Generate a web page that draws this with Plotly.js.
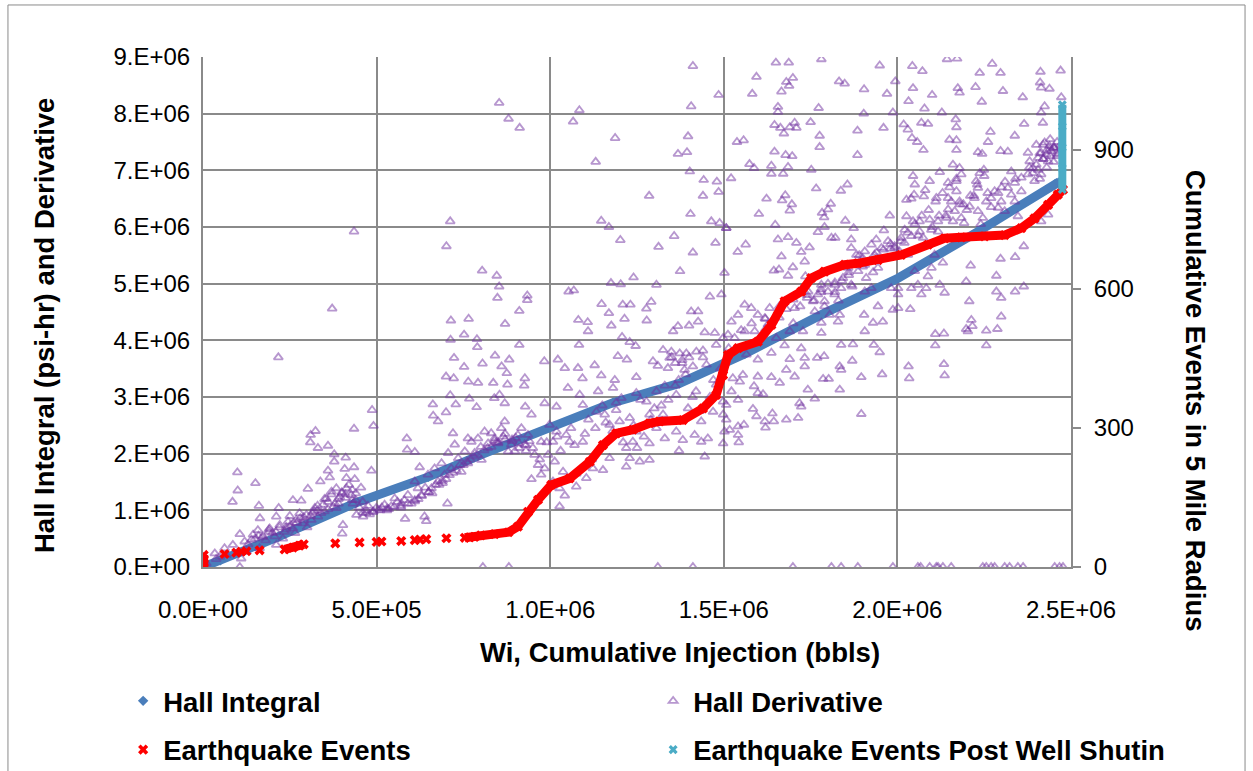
<!DOCTYPE html>
<html>
<head>
<meta charset="utf-8">
<script src="https://cdn.plot.ly/plotly-3.0.1.min.js"></script>
<style>html,body{margin:0;padding:0;background:#fff;}#chart{width:1253px;height:771px;}</style>
</head>
<body>
<div id="chart"></div>
<script>
// ---- Data (injection in millions of bbls, Hall values in millions of psi-hr) ----
const hallX_MM = [0, 0.05, 0.218, 0.439, 0.649, 0.80, 0.999, 1.181, 1.372, 1.502, 1.560, 1.790, 2.003, 2.232, 2.453, 2.467];
const hallY_MM = [0, 0.12, 0.535, 1.13, 1.59, 1.98, 2.47, 2.90, 3.24, 3.62, 3.76, 4.48, 5.10, 5.92, 6.75, 6.80];

const derivX_MM = [
0.435,0.372,0.217,0.487,0.491,0.435,0.310,0.324,0.309,0.331,0.360,0.378,0.378,0.411,0.408,0.435,0.437,0.413,0.485,0.360,0.365,0.338,0.099,0.100,0.085,0.151,0.161,0.164,0.218,0.211,0.250,0.302,0.259,0.283,
0.034,0.062,0.086,0.106,0.120,0.144,0.158,0.173,0.192,0.206,0.221,0.235,0.245,0.259,0.269,0.278,0.288,0.298,0.312,0.322,0.331,0.346,0.355,0.370,0.384,0.394,0.413,0.427,0.432,0.442,0.461,0.480,0.499,0.403,0.401,0.384,0.211,0.163,0.125,0.106,0.110,0.048,0.0096,0.038,0.067,
0.18,0.20,0.23,0.25,0.265,0.28,0.30,0.315,0.34,0.35,0.36,0.375,0.39,0.40,0.42,0.44,0.45,0.47,0.49,0.15,0.13,
0.853,0.880,0.912,0.712,0.701,0.804,0.846,0.853,0.848,0.934,0.934,0.911,0.714,0.765,0.870,0.713,0.752,0.789,0.790,0.911,0.983,0.723,0.752,0.805,0.841,0.882,0.860,0.875,0.700,0.722,0.764,0.792,0.836,0.877,0.927,0.925,0.712,0.662,0.663,0.700,0.728,0.767,0.788,0.839,0.854,0.869,0.984,0.928,0.946,0.587,0.588,0.610,0.624,0.582,0.643,0.704,0.946,0.984,0.806,0.881,
0.504,0.523,0.542,0.552,0.571,0.590,0.600,0.610,0.619,0.629,0.638,0.648,0.658,0.667,0.677,0.687,0.696,0.706,0.715,0.725,0.735,0.744,0.754,0.763,0.773,0.782,0.792,0.802,0.811,0.821,0.830,0.840,0.850,0.859,0.869,0.879,0.888,0.898,0.907,0.917,0.926,0.936,0.955,0.965,0.974,0.994,0.974,0.720,0.763,0.677,
0.515,0.535,0.56,0.58,0.62,0.64,0.66,0.68,0.70,0.74,0.78,0.82,0.845,0.865,0.89,0.91,0.93,0.95,0.97,0.99,
1.411,1.485,1.406,1.084,1.066,1.187,1.131,1.397,1.368,1.394,1.402,1.442,1.480,1.440,1.485,1.285,1.404,1.147,1.169,1.464,1.488,1.507,1.202,1.357,1.312,1.476,1.411,1.374,1.502,1.240,1.175,1.203,1.306,1.053,1.068,1.148,1.209,1.231,1.291,1.277,1.169,1.214,1.081,1.108,1.176,1.278,1.460,1.493,1.406,1.426,1.426,1.400,1.354,1.368,1.109,1.207,1.229,1.246,1.083,1.445,1.474,1.498,
1.022,1.042,1.080,1.128,1.195,1.221,1.018,1.051,1.093,1.147,1.186,1.248,1.296,1.325,1.349,1.373,1.392,1.421,1.440,1.478,1.085,1.094,1.138,1.181,1.205,1.248,1.277,1.306,1.344,1.339,1.387,1.411,1.450,1.478,1.498,1.363,1.397,1.435,1.469,1.498,0.998,1.018,1.046,1.008,1.056,1.094,1.133,1.157,1.190,1.200,1.171,1.229,1.248,1.286,1.306,1.330,1.325,1.363,1.382,1.416,1.435,1.454,1.445,1.371,1.286,1.219,1.238,1.229,1.258,1.286,1.219,1.171,1.152,1.123,1.104,1.075,1.037,1.013,1.008,1.027,1.075,1.042,1.027,1.310,1.411,1.502,1.498,
1.35,1.36,1.38,1.40,1.33,1.37,1.42,1.46,1.02,1.06,1.11,1.15,1.19,1.26,1.30,1.34,
1.650,1.687,1.781,1.949,1.594,1.680,1.699,1.688,1.582,1.666,1.832,1.848,1.904,1.970,1.994,1.656,1.656,1.773,1.903,1.987,1.646,1.663,1.673,1.690,1.704,1.709,1.750,1.776,1.885,1.960,1.538,1.557,1.646,1.678,1.697,1.776,1.885,1.574,1.587,1.637,1.685,1.637,1.671,1.752,1.521,1.766,1.837,1.856,1.623,1.668,1.677,1.696,1.690,1.601,1.783,1.808,1.800,1.789,1.850,1.978,1.648,1.507,1.790,1.874,1.771,1.656,1.685,1.709,1.747,1.810,1.821,1.867,1.961,1.563,1.540,1.723,1.666,1.733,1.699,1.644,1.659,1.685,1.735,
1.867,1.882,1.906,1.925,1.939,1.954,1.973,1.992,1.934,1.906,1.944,1.887,1.858,1.843,1.867,1.819,1.800,1.781,1.771,1.790,1.819,1.838,1.906,1.925,1.982,2.002,1.987,1.944,1.904,1.958,1.930,1.906,1.829,1.834,1.805,1.781,1.762,1.757,1.743,1.704,1.675,1.656,1.632,1.618,1.627,1.598,1.579,1.560,1.541,1.522,1.512,1.531,1.560,1.589,1.613,1.651,1.690,1.728,1.781,1.675,1.723,1.838,1.872,1.932,1.949,1.514,1.565,1.598,1.637,1.690,1.733,1.769,1.789,1.733,1.680,1.834,1.838,1.870,1.555,1.598,1.526,1.546,1.637,1.661,1.704,1.786,1.802,1.896,1.956,1.587,1.742,1.834,1.522,1.541,1.598,1.613,1.762,1.718,1.723,1.584,1.594,1.640,1.896,1.507,1.507,1.517,1.541,1.558,1.618,1.644,1.680,1.714,1.620,1.543,1.541,1.699,1.810,1.838,1.886,1.987,
2.143,2.172,2.043,2.072,2.273,2.297,2.237,2.412,2.470,2.411,2.045,2.174,2.179,2.225,2.304,2.438,2.414,2.100,2.361,2.472,2.032,2.243,2.424,2.078,2.128,2.414,2.168,2.018,2.069,2.088,2.365,2.419,2.030,2.170,2.268,2.338,2.042,2.057,2.150,2.170,2.261,2.075,2.170,2.232,2.244,2.297,2.318,
2.424,2.438,2.453,2.443,2.429,2.414,2.462,2.405,2.434,2.376,2.381,2.390,2.405,2.414,2.376,2.395,2.357,2.328,2.338,2.318,2.357,2.328,2.299,2.338,2.309,2.280,2.270,2.290,
2.122,2.179,2.184,2.160,2.170,2.146,2.093,2.045,2.050,2.026,2.048,2.076,2.112,2.146,2.170,2.155,2.179,2.227,2.237,2.249,2.232,2.222,2.256,2.208,2.232,2.246,2.146,2.165,2.184,2.141,2.117,2.093,2.045,2.026,2.064,2.192,2.347,2.414,2.434,2.021,2.064,2.098,2.117,2.011,2.040,2.074,1.992,2.006,2.030,2.107,2.131,2.098,2.050,2.088,2.059,2.002,2.083,2.069,2.040,2.002,2.037,2.136,2.122,2.198,2.211,2.285,2.297,2.339,2.364,2.285,2.299,2.339,2.364,2.207,2.213,2.216,2.203,2.198,2.256,2.288,2.299,2.109,2.134,2.109,2.256,2.032,2.034,2.134,2.136,
2.059,2.067,2.093,2.112,2.117,2.131,2.155,2.246,2.256,2.270,2.280,2.309,2.323,2.347,2.362,2.453,2.467,2.477,
0.17,0.19,0.21,0.24,0.26,0.29,0.31,0.33,0.36,0.39,0.41,0.43,0.46,0.53,0.57,0.61,0.65,0.69,0.72,0.76,0.80,0.84,0.87,0.90,0.94,
1.55,1.58,1.62,1.66,1.70,1.74,1.78,1.82,1.86,1.90,1.94,1.98,2.02,2.06,2.10,2.14,2.18,2.22,2.26,2.30,2.34,2.38,2.42,2.45,2.40,2.44,2.46,
0.14,0.16,0.19,0.22,0.24,0.27,0.29,0.32,0.33,0.35,0.37,0.38,0.40,0.41,0.43,0.44,0.455,0.46,0.475,
0.47,0.49,0.51,0.53,0.55,0.57,0.59,0.61,0.63,0.65,0.67,0.69,0.71,0.73,0.75,0.77,0.79,0.81,0.83,0.85,0.87,0.89,0.91,0.93,
1.03,1.07,1.10,1.13,1.16,1.21,1.24,1.27,1.29,1.32,1.36,1.39,1.41,1.43,1.47,1.49,1.12,1.18,1.25,1.31,1.38,1.44,
1.62,1.64,1.66,1.68,1.70,1.72,1.74,1.76,1.78,1.80,1.82,1.84,1.86,1.88,1.90,1.92,1.94,1.96,1.98,1.79,1.83,1.87,1.91,1.85,1.89,1.93,
2.01,2.03,2.05,2.07,2.09,2.11,2.13,2.15,2.17,2.19,2.21,2.23,2.25,2.27,2.29,2.31,2.04,2.08,2.12,2.16,2.20,2.24,
2.40,2.41,2.42,2.43,2.44,2.45,2.46,2.42,2.44,2.46,2.43,2.45,2.39,2.41,2.47
];
const derivY_MM = [
5.92,4.56,3.70,2.77,2.49,2.44,2.33,2.40,2.20,2.10,2.14,1.99,1.86,1.93,1.73,1.76,1.55,1.57,1.70,1.70,1.58,1.51,1.67,1.35,1.15,1.48,1.08,0.86,1.04,0.89,0.90,1.38,1.18,1.17,
0.24,0.33,0.39,0.58,0.45,0.57,0.65,0.54,0.68,0.54,0.74,0.62,0.80,0.68,0.83,0.95,0.77,0.92,0.83,1.04,0.89,1.10,1.21,1.33,1.39,1.24,1.39,1.27,1.12,0.92,0.89,0.93,1.04,0.74,0.59,1.04,0.39,0.33,0.27,0.0,0.15,0.18,0.06,0.14,0.21,
0.47,0.60,0.50,0.72,0.60,0.86,0.70,0.96,0.95,0.98,1.15,1.06,1.20,1.32,1.45,1.30,1.05,1.00,0.97,0.50,0.40,
8.19,7.91,7.75,6.10,5.66,5.23,5.14,4.95,4.75,4.79,4.71,4.52,4.35,4.38,4.29,4.01,4.10,4.02,3.88,3.92,3.63,3.69,3.53,3.59,3.73,3.66,3.54,3.42,3.36,3.33,3.27,3.25,3.25,3.22,3.33,3.20,3.03,2.87,2.67,2.73,2.87,2.97,2.82,2.98,3.04,2.89,2.89,2.83,2.69,2.27,2.07,2.03,1.76,0.85,0.81,1.12,1.55,1.74,0,0,
1.01,1.10,1.07,1.21,1.12,1.27,1.12,1.51,1.39,1.27,0.89,1.63,1.39,1.74,1.51,1.83,1.63,2.01,1.74,2.16,1.92,1.68,2.04,1.83,2.21,2.01,2.27,1.89,2.39,2.18,2.36,2.27,2.18,2.45,2.57,2.04,2.16,2.04,2.33,2.45,2.16,2.33,1.98,1.80,1.63,1.98,2.21,2.36,2.27,2.57,
1.05,1.02,1.15,1.18,1.20,1.40,1.30,1.45,1.55,1.80,1.95,2.10,2.20,2.30,2.25,2.10,2.05,2.10,1.90,2.20,
8.84,8.33,8.13,8.06,7.86,7.57,7.15,7.60,7.29,7.32,6.98,6.83,6.80,6.55,6.62,6.55,6.23,6.11,6.00,6.10,6.07,5.98,5.77,5.84,5.65,5.72,5.55,5.22,5.19,5.11,5.01,4.99,4.98,4.86,4.88,4.64,4.63,4.63,4.68,4.56,4.48,4.38,4.36,4.32,4.26,4.35,4.77,4.81,4.51,4.51,4.33,4.26,4.16,4.25,4.16,4.06,3.97,3.90,3.92,4.14,4.13,4.04,
3.66,3.51,3.51,3.56,3.72,3.66,2.83,3.16,3.33,3.38,3.30,3.35,3.63,3.83,3.80,3.77,3.77,3.80,3.82,3.92,3.04,2.86,3.10,3.16,2.98,3.07,2.92,3.10,3.69,3.51,3.48,3.54,3.57,3.22,2.92,3.04,2.80,2.57,2.74,2.69,2.51,2.39,2.33,2.21,2.21,2.21,2.74,2.69,2.77,2.57,2.51,2.63,2.39,2.69,2.45,2.27,2.69,2.39,2.24,2.33,2.21,2.27,1.95,2.05,2.18,2.10,2.21,1.92,1.86,1.89,1.77,1.92,1.71,1.74,1.57,1.65,1.68,1.86,1.51,1.39,1.42,1.26,1.07,0,0,2.39,2.18,
3.70,3.60,3.65,3.70,3.20,3.30,3.10,3.00,2.30,2.45,2.60,2.85,2.90,2.95,2.80,2.95,
8.90,8.90,8.96,8.85,8.65,8.56,8.63,8.49,8.35,8.39,8.57,8.53,8.43,8.35,8.57,8.12,8.03,8.10,8.00,8.02,7.80,7.75,7.65,7.76,7.84,7.75,7.85,7.61,7.70,7.75,7.50,7.53,7.33,7.27,7.25,7.41,7.27,7.11,7.04,7.08,7.06,6.94,6.94,7.01,6.86,6.68,6.64,6.75,6.50,6.47,6.56,6.40,6.29,6.23,6.25,6.41,6.31,6.17,6.11,6.20,6.04,5.98,6.00,5.98,5.91,5.78,5.82,5.72,5.64,5.81,5.81,5.78,5.94,5.69,5.56,5.56,5.48,5.39,5.29,5.23,5.25,5.14,5.13,
5.63,5.51,5.57,5.69,5.78,5.63,5.75,5.63,5.51,5.33,5.28,5.22,5.28,5.10,4.98,4.98,4.86,4.98,4.81,4.69,4.81,4.92,4.86,4.92,4.92,4.81,4.54,4.60,4.45,4.33,4.31,4.16,4.33,4.45,4.45,4.31,4.51,4.69,4.86,4.57,4.69,4.51,4.57,4.39,4.28,4.45,4.57,4.63,4.45,4.33,4.10,4.04,4.16,4.16,4.10,4.04,4.16,4.16,4.13,3.91,3.86,3.92,3.93,3.92,3.79,3.86,3.75,3.66,3.78,3.67,3.69,3.69,3.72,3.54,3.48,3.54,3.48,3.64,3.39,3.36,3.33,3.27,3.35,3.25,3.36,3.32,3.32,3.35,3.40,3.19,3.13,3.13,3.10,2.95,3.07,3.05,2.97,2.89,2.83,2.79,2.66,2.71,2.70,2.86,2.60,2.42,2.48,2.51,2.57,2.57,2.60,2.63,2.46,2.20,2.33,0,0,0,0,0,
8.96,8.97,8.84,8.75,8.88,8.72,8.72,8.74,8.76,8.55,8.45,8.45,8.37,8.47,8.40,8.44,8.46,8.33,8.29,8.29,8.22,8.21,8.13,8.09,8.02,8.02,7.90,7.81,7.84,7.82,7.82,7.84,7.72,7.76,7.68,7.61,7.57,7.50,7.54,7.53,7.50,7.36,7.36,7.32,7.29,7.34,7.33,
7.49,7.43,7.40,7.34,7.28,7.31,7.28,7.22,7.16,7.31,7.16,7.04,7.01,6.93,6.93,6.81,6.87,6.98,6.78,6.69,6.63,6.57,6.45,6.45,6.28,6.63,6.51,6.34,
6.97,7.04,6.93,7.10,6.81,6.78,6.81,6.90,6.75,6.48,6.57,6.54,6.51,6.51,6.63,6.45,6.45,6.81,6.95,7.01,6.69,6.51,6.45,6.36,6.28,6.16,6.31,6.28,6.16,6.16,6.10,6.13,6.10,6.19,6.10,6.07,6.19,6.10,6.22,5.95,5.92,5.95,5.92,5.81,5.84,5.81,5.66,5.57,5.51,5.51,5.37,5.28,5.22,5.13,4.98,4.92,4.92,4.81,4.92,4.57,4.55,4.84,4.98,5.04,5.32,5.14,5.44,5.47,5.66,4.86,4.75,4.86,4.95,4.69,4.36,4.25,4.16,4.20,4.17,4.20,4.42,4.11,4.12,3.91,3.91,3.54,3.33,3.58,3.38,
0,0,0,0,0,0,0,0,0,0,0,0,0,0,0,0,0,0,
0.52,0.66,0.62,0.70,0.78,0.82,0.90,1.00,1.02,1.12,1.28,1.18,1.15,1.00,1.05,1.16,1.32,1.48,1.66,1.86,2.12,2.23,2.35,2.28,2.22,
4.18,4.30,4.38,4.60,4.72,4.80,4.85,5.02,5.15,5.30,5.40,5.62,5.72,5.85,6.00,6.20,6.40,6.55,6.60,6.70,6.85,7.05,7.20,7.40,7.45,7.38,7.25,
0.48,0.55,0.62,0.70,0.66,0.78,0.88,0.98,1.08,1.20,1.28,1.12,1.30,1.22,1.36,1.18,1.40,0.96,1.08,
0.95,0.98,1.00,1.03,1.06,1.08,1.12,1.18,1.25,1.32,1.45,1.52,1.62,1.70,1.80,1.90,1.98,2.06,2.12,2.20,2.25,2.22,2.18,2.15,
2.05,2.15,2.35,2.45,2.55,2.20,2.50,2.30,2.60,2.85,3.20,3.40,3.00,2.75,3.30,3.50,1.90,2.40,2.10,3.55,3.60,3.70,
4.20,4.35,4.40,4.55,4.30,4.60,4.75,4.70,4.90,5.00,4.85,5.05,5.20,5.35,5.45,5.40,5.55,5.60,5.70,4.60,4.70,4.95,5.10,5.30,5.50,5.20,
5.75,5.90,6.05,6.20,6.30,6.45,6.60,6.70,6.85,6.40,6.55,6.75,6.90,6.35,6.60,6.80,6.50,6.65,6.20,6.10,6.30,6.05,
7.10,7.30,7.45,7.35,7.55,7.40,7.30,7.20,7.25,7.50,7.05,7.15,6.95,6.85,7.45
];

const eqX_MM = [0.002,0.002,0.002,0.002,0.062,0.096,0.110,0.125,0.163,0.235,0.259,0.278,0.290,0.381,0.451,0.500,0.514,0.571,0.610,0.625,0.643,0.701,0.754,0.768,0.782,0.800,0.840,0.880,0.907,0.936,0.965,1.003,1.056,1.114,1.152,1.190,1.238,1.286,1.315,1.382,1.440,1.478,1.498,1.512,1.541,1.598,1.637,1.675,1.723,1.752,1.790,1.848,1.886,1.944,2.011,2.088,2.136,2.184,2.251,2.309,2.357,2.395,2.434,2.462,2.477];
const eqEvents = [0,8,17,26,28,31,33,34,36,38,42,46,49,51,53,54,55,56,58,59,60,62,63,64,65,68,71,75,87,119,145,177,191,227,263,288,296,310,314,317,342,371,414,457,472,486,522,573,594,623,637,652,655,662,673,695,709,711,713,716,731,752,781,803,814];

const postX_MM = [2.475, 2.475, 2.475, 2.475, 2.475];
const postEvents = [814, 860, 905, 950, 997];

const xTickVals = [0, 5e5, 1e6, 1.5e6, 2e6, 2.5e6];
const xTickText = ['0.0E+00','5.0E+05','1.0E+06','1.5E+06','2.0E+06','2.5E+06'];
const yTickVals = [0,1e6,2e6,3e6,4e6,5e6,6e6,7e6,8e6,9e6];
const yTickText = ['0.E+00','1.E+06','2.E+06','3.E+06','4.E+06','5.E+06','6.E+06','7.E+06','8.E+06','9.E+06'];
const y2TickVals = [0, 300, 600, 900];

// ---- Build traces ----
const M = 1e6;
const toUnits = a => a.map(v => v * M);
const FONT = 'Liberation Sans, Arial, sans-serif';
const BOLD = {family: FONT, size: 27.5, weight: 'bold', color: '#000'};
const TICK = {family: FONT, size: 24, color: '#000'};

// dense stretches of the earthquake record (index ranges), drawn as a thick band
const denseRanges = [[0, 3], [9, 12], [22, eqX_MM.length - 1]];
const bandX = [], bandY = [];
denseRanges.forEach(([a, b], k) => {
  if (k) { bandX.push(null); bandY.push(null); }
  for (let i = a; i <= b; i++) { bandX.push(eqX_MM[i] * M); bandY.push(eqEvents[i]); }
});

const traces = [
  {x: toUnits(hallX_MM), y: toUnits(hallY_MM), mode: 'lines', line: {color: '#4A7EBB', width: 9},
   legendgroup: 'hall', showlegend: false, hoverinfo: 'skip'},
  {x: toUnits(hallX_MM), y: toUnits(hallY_MM), mode: 'markers', name: 'Hall Integral', legendgroup: 'hall',
   marker: {symbol: 'diamond', size: 8, color: '#4A7EBB'}},
  {x: toUnits(derivX_MM), y: toUnits(derivY_MM), mode: 'markers', name: 'Hall Derivative',
   marker: {symbol: 'triangle-up-open', size: 8, color: 'rgba(112,48,160,0.5)', line: {width: 1.8}}},
  {x: bandX, y: bandY, yaxis: 'y2', mode: 'lines', line: {color: '#FF0000', width: 9},
   legendgroup: 'eq', showlegend: false, hoverinfo: 'skip', connectgaps: false},
  {x: toUnits(eqX_MM), y: eqEvents, yaxis: 'y2', mode: 'markers', name: 'Earthquake Events', legendgroup: 'eq',
   marker: {symbol: 'x', size: 9, color: '#FF0000'}},
  {x: toUnits(postX_MM), y: postEvents, yaxis: 'y2', mode: 'lines', line: {color: '#4BACC6', width: 8},
   legendgroup: 'post', showlegend: false, hoverinfo: 'skip'},
  {x: toUnits(postX_MM), y: postEvents, yaxis: 'y2', mode: 'markers', name: 'Earthquake Events Post Well Shutin',
   legendgroup: 'post', marker: {symbol: 'x', size: 8, color: '#4BACC6'}}
];

const GRID = '#8a8a8a';
const layout = {
  width: 1253, height: 771,
  margin: {l: 203, r: 182, t: 57, b: 204, pad: 0, autoexpand: false},
  paper_bgcolor: '#ffffff', plot_bgcolor: '#ffffff',
  font: {family: FONT, color: '#000'},
  showlegend: true,
  xaxis: {range: [0, 2.5e6], tickvals: xTickVals, ticktext: xTickText, showgrid: true, gridcolor: GRID, gridwidth: 2,
          showline: true, linecolor: GRID, linewidth: 2, zeroline: false, ticks: '', automargin: false,
          tickfont: TICK, ticklabelstandoff: 20, fixedrange: true},
  yaxis: {range: [0, 9e6], tickvals: yTickVals, ticktext: yTickText, showgrid: true, gridcolor: GRID, gridwidth: 2,
          showline: true, linecolor: GRID, linewidth: 2, zeroline: false, ticks: '', automargin: false,
          tickfont: TICK, ticklabelstandoff: 6, fixedrange: true},
  yaxis2: {range: [0, 1100], overlaying: 'y', side: 'right', tickvals: y2TickVals, showgrid: false,
           showline: true, linecolor: GRID, linewidth: 2, zeroline: false, ticks: 'outside', ticklen: 8,
           tickwidth: 2, tickcolor: GRID, tickfont: TICK, automargin: false,
           ticklabelstandoff: 8, fixedrange: true},
  legend: {orientation: 'h', x: -0.092, xanchor: 'left', y: -0.2147, yanchor: 'top',
           font: BOLD, entrywidth: 485, entrywidthmode: 'pixels', itemsizing: 'trace', bgcolor: 'rgba(0,0,0,0)'},
  annotations: [
    {text: 'Wi, Cumulative Injection (bbls)', xref: 'paper', yref: 'paper', x: 0.5495, y: -0.1667,
     xanchor: 'center', yanchor: 'middle', showarrow: false, font: BOLD},
    {text: 'Hall Integral (psi-hr) and Derivative', xref: 'paper', yref: 'paper', x: -0.1832, y: 0.4745,
     xanchor: 'center', yanchor: 'middle', textangle: -90, showarrow: false, font: BOLD},
    {text: 'Cumulative Events in 5 Mile Radius', xref: 'paper', yref: 'paper', x: 1.1429, y: 0.3255,
     xanchor: 'center', yanchor: 'middle', textangle: 90, showarrow: false, font: BOLD}
  ],
  shapes: [
    {type: 'rect', xref: 'paper', yref: 'paper', x0: -0.2247, x1: 1.2005, y0: -0.6, y1: 1.102,
     line: {color: '#8a8a8a', width: 1}, layer: 'below'}
  ]
};

Plotly.newPlot('chart', traces, layout, {displayModeBar: false, staticPlot: true});
</script>
</body>
</html>
